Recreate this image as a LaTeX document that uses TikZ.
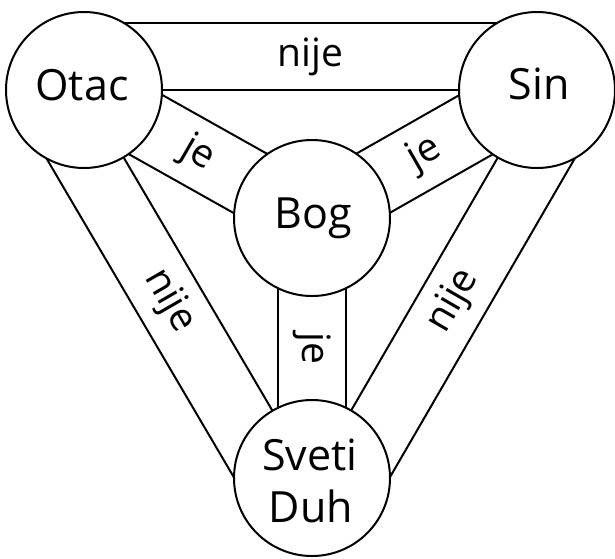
\documentclass[tikz,border=0pt]{standalone}
\usepackage{fontspec}
\setmainfont{Open Sans}
\usetikzlibrary{calc,backgrounds}
\begin{document}
\begin{tikzpicture}[x=1pt,y=-1pt,
  person/.style={circle, draw, line width=2pt, fill=white, minimum size=156pt, inner sep=0pt},
  ptext/.style={anchor=base, inner sep=0pt, font=\fontsize{43}{52}\selectfont},
  band/.style={line width=2pt},
  blabel/.style={inner sep=0pt, font=\fontsize{39}{47}\selectfont}]
\useasboundingbox (0,0) rectangle (615,558);
% circles
\node[person] (O) at (84,90) {};
\node[person] (S) at (537,90) {};
\node[person] (B) at (312,218) {};
\node[person] (D) at (312,478) {};
% circle texts
\node[ptext] (tO) at (82,100) {Otac};
\node[ptext] (tS) at (539,99) {Sin};
\node[ptext] (tB) at (313,228) {Bog};
\node[ptext] (tD1) at (310,470) {Sveti};
\node[ptext] (tD2) at (311,522) {Duh};
% outer points of the "nije" bands
\coordinate (os1) at ($(O.center)!67pt!90:(S.center)$);
\coordinate (os2) at ($(S.center)!67pt!-90:(O.center)$);
\coordinate (od1) at ($(O.center)!67pt!-90:(D.center)$);
\coordinate (od2) at ($(D.center)!67pt!90:(O.center)$);
\coordinate (sd1) at ($(S.center)!67pt!90:(D.center)$);
\coordinate (sd2) at ($(D.center)!67pt!-90:(S.center)$);
\begin{pgfonlayer}{background}
  % nije bands
  \draw[band] (O.center) -- (S.center);
  \draw[band] (os1) -- (os2);
  \draw[band] (O.center) -- (D.center);
  \draw[band] (od1) -- (od2);
  \draw[band] (S.center) -- (D.center);
  \draw[band] (sd1) -- (sd2);
  % je bands
  \draw[band] ($(O.center)!34pt!90:(B.center)$) -- ($(B.center)!34pt!-90:(O.center)$);
  \draw[band] ($(O.center)!34pt!-90:(B.center)$) -- ($(B.center)!34pt!90:(O.center)$);
  \draw[band] ($(S.center)!34pt!90:(B.center)$) -- ($(B.center)!34pt!-90:(S.center)$);
  \draw[band] ($(S.center)!34pt!-90:(B.center)$) -- ($(B.center)!34pt!90:(S.center)$);
  \draw[band] ($(B.center)!34pt!90:(D.center)$) -- ($(D.center)!34pt!-90:(B.center)$);
  \draw[band] ($(B.center)!34pt!-90:(D.center)$) -- ($(D.center)!34pt!90:(B.center)$);
\end{pgfonlayer}
% band labels
\node[blabel] (lOS) at ($(O.center)!0.5!(os2)$) {nije};
\node[blabel, rotate=-60] (lOD) at ($(O.center)!0.5!(od2)$) {nije};
\node[blabel, rotate=60] (lSD) at ($(S.center)!0.5!(sd2)$) {nije};
\node[blabel, rotate=-30] (lOB) at ($(O.center)!0.5!(B.center)$) {je};
\node[blabel, rotate=30] (lSB) at ($(S.center)!0.5!(B.center)$) {je};
\node[blabel, rotate=-90] (lBD) at ($(B.center)!0.5!(D.center)$) {je};
\end{tikzpicture}
\end{document}
